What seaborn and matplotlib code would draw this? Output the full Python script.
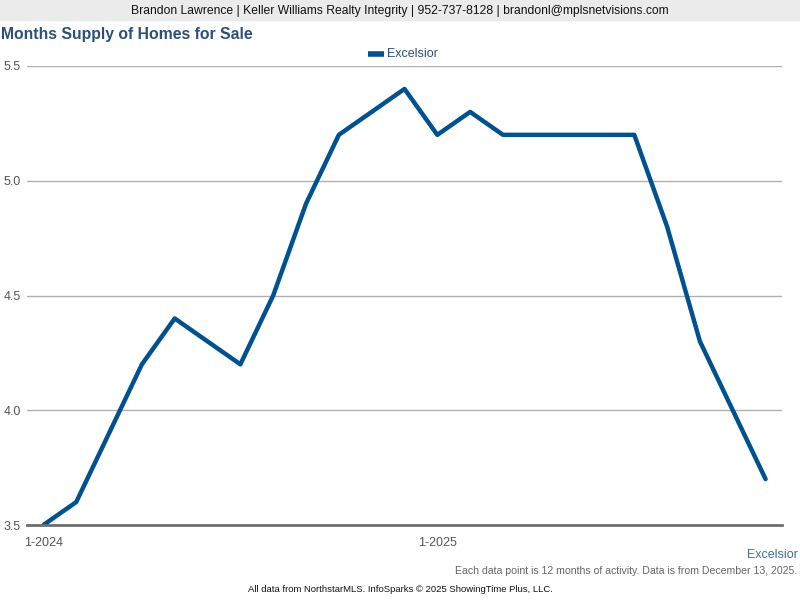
import pandas as pd
import numpy as np
import seaborn as sns
import matplotlib.pyplot as plt

# monthly values, Jan 2024 .. Nov 2025
months = ["1-2024", "2-2024", "3-2024", "4-2024", "5-2024", "6-2024", "7-2024", "8-2024",
          "9-2024", "10-2024", "11-2024", "12-2024", "1-2025", "2-2025", "3-2025", "4-2025",
          "5-2025", "6-2025", "7-2025", "8-2025", "9-2025", "10-2025", "11-2025"]
supply = [3.5, 3.6, 3.9, 4.2, 4.4, 4.3, 4.2, 4.5, 4.9, 5.2, 5.3, 5.4,
          5.2, 5.3, 5.2, 5.2, 5.2, 5.2, 5.2, 4.8, 4.3, 4.0, 3.7]
tick_labels = ["1-2024", "1-2025"]
y_ticks = [3.5, 4.0, 4.5, 5.0, 5.5]

df = pd.DataFrame({"idx": np.arange(len(months)), "month": months, "value": supply,
                   "area": "Excelsior"})

sns.set_style("white")
plt.rcParams['font.family'] = ['Liberation Sans', 'DejaVu Sans']

line_color = "#00518f"
fig = plt.figure(figsize=(8, 6), dpi=100)
ax = fig.add_axes([27/800, 1-525/600, (782-27)/800, (525-66)/600])

sns.lineplot(data=df, x="idx", y="value", hue="area", palette=[line_color],
             linewidth=3.2, ax=ax, legend=False)

ax.set_xlim(-0.5, 22.5)
ax.set_ylim(3.5, 5.5)
ax.set_yticks(y_ticks)
ax.set_yticklabels([f"{v:.1f}" for v in y_ticks], color="#555555", fontsize=9)
ax.set_xticks([months.index(t) for t in tick_labels])
ax.set_xticklabels(tick_labels, color="#555555", fontsize=9)
ax.tick_params(axis="y", length=0, pad=0)
ax.tick_params(axis="x", length=5, width=1, color="#777777", pad=4, direction="out")
ax.grid(axis="y", color="#b0b0b0", linewidth=1)
ax.set_axisbelow(True)
for s in ["top", "right", "left"]:
    ax.spines[s].set_visible(False)
ax.spines["bottom"].set_color("#6e6e6e")
ax.spines["bottom"].set_linewidth(2)
ax.set_xlabel(None)
ax.set_ylabel(None)
for lbl in ax.get_yticklabels():
    lbl.set_horizontalalignment("left")
    lbl.set_x(-23/755)

# header bar
fig.patches.append(plt.Rectangle((0, 1-20/600), 1, 20/600, transform=fig.transFigure,
                                 color="#ebebeb", zorder=0))
fig.text(0.5, 1-11/600, "Brandon Lawrence | Keller Williams Realty Integrity | 952-737-8128 | brandonl@mplsnetvisions.com",
         ha="center", va="center", fontsize=8.7, color="#111111")
fig.text(1/800, 1-34/600, "Months Supply of Homes for Sale", ha="left", va="center",
         fontsize=11.3, fontweight="bold", color="#2c4f78")

# legend
fig.lines.append(plt.Line2D([368/800, 384/800], [1-54/600, 1-54/600], transform=fig.transFigure,
                            color=line_color, linewidth=4, solid_capstyle="butt"))
fig.text(387/800, 1-54/600, "Excelsior", ha="left", va="center", fontsize=9, color="#2c4f78")

# footer
fig.text(798/800, 1-555/600, "Excelsior", ha="right", va="center", fontsize=9, color="#3d6fa8")
fig.text(797/800, 1-571/600, "Each data point is 12 months of activity. Data is from December 13, 2025.",
         ha="right", va="center", fontsize=7.6, color="#666666")
fig.text(400/800, 1-590/600, "All data from NorthstarMLS. InfoSparks \u00a9 2025 ShowingTime Plus, LLC.",
         ha="center", va="center", fontsize=6.8, color="#111111")

plt.savefig("out.png", dpi=100)
